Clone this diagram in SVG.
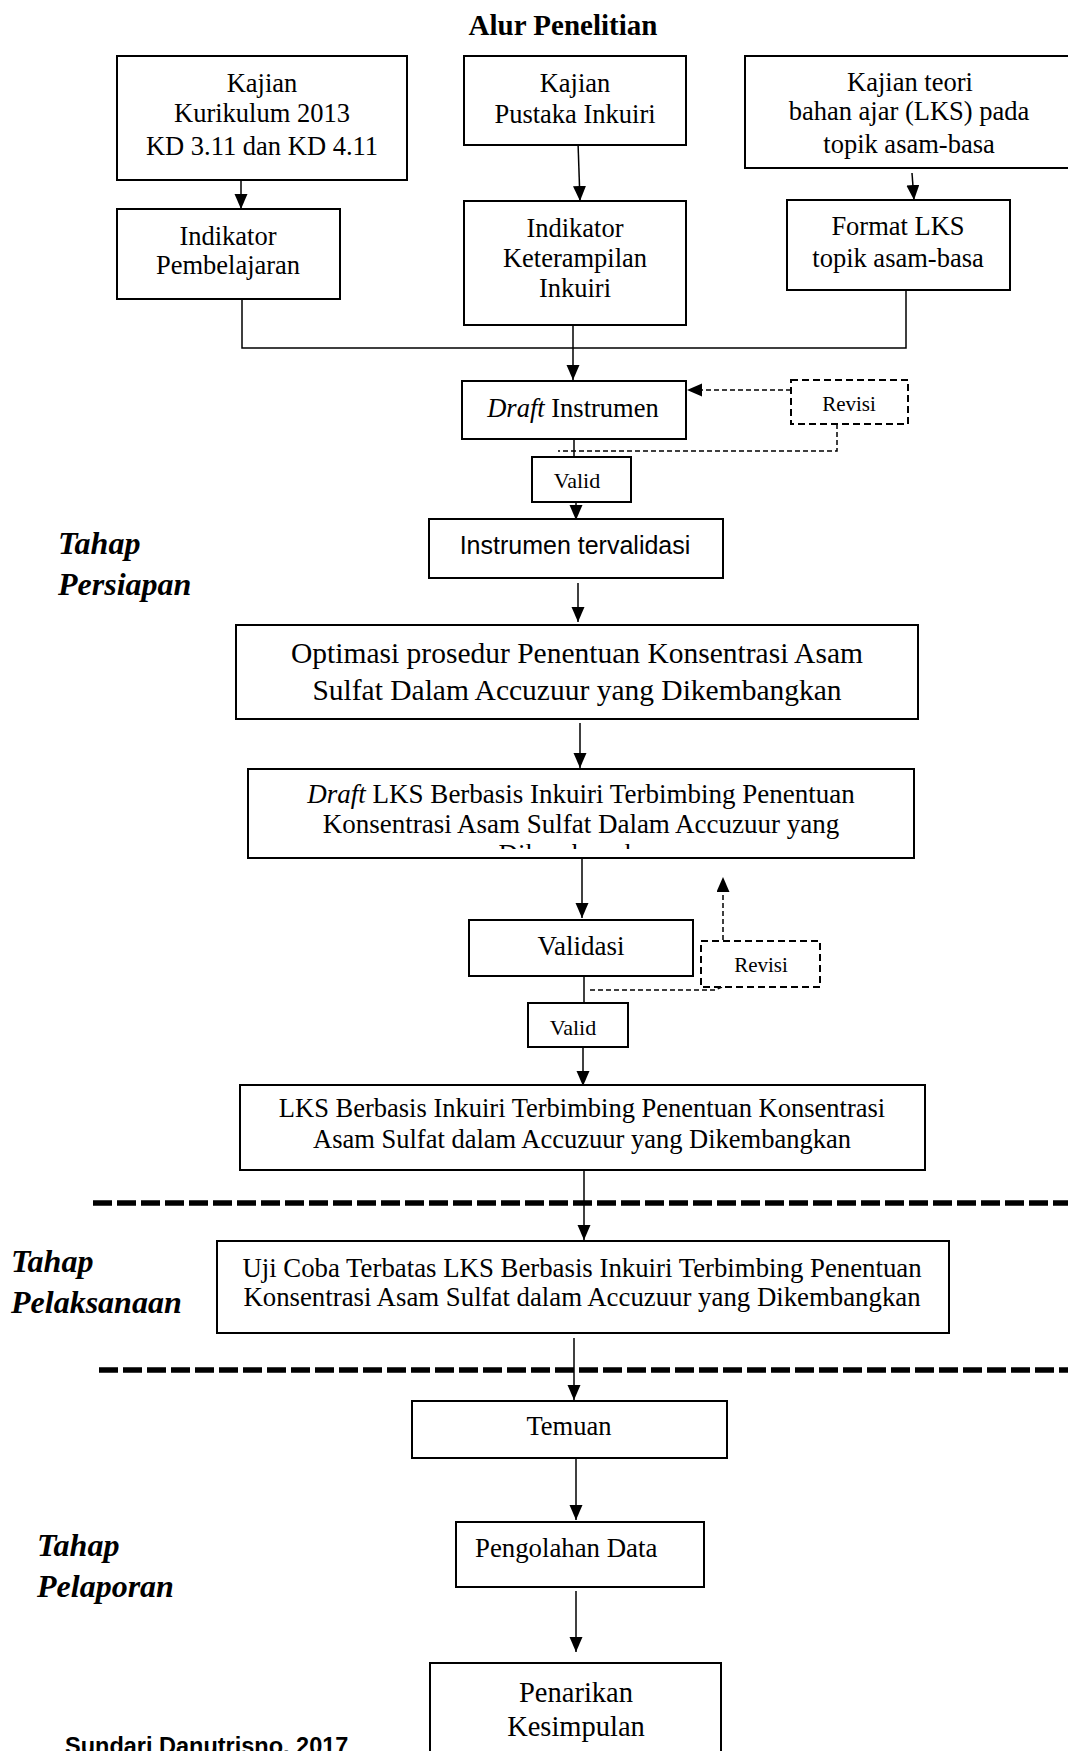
<svg xmlns="http://www.w3.org/2000/svg" width="1068" height="1751" viewBox="0 0 1068 1751">
<style>
.bx{fill:#fff;stroke:#000;stroke-width:2}
.dbx{fill:#fff;stroke:#000;stroke-width:2;stroke-dasharray:7 4}
.t{font-family:"Liberation Serif","Times New Roman",serif;fill:#000;text-anchor:middle}
.ln{fill:none;stroke:#000;stroke-width:1.5}
.dl{fill:none;stroke:#000;stroke-width:1.5;stroke-dasharray:5 3}
.sep{fill:none;stroke:#000;stroke-width:5.5;stroke-dasharray:19 5}
.ph{font-family:"Liberation Serif","Times New Roman",serif;font-weight:bold;font-style:italic;font-size:32px;fill:#000}
</style>
<defs>
<marker id="ah" markerUnits="userSpaceOnUse" markerWidth="16" markerHeight="14" refX="15" refY="6.5" orient="auto">
<path d="M0,0 L15,6.5 L0,13 z" fill="#000"/>
</marker>
<clipPath id="clipLKS"><rect x="249" y="770" width="664" height="79"/></clipPath>
</defs>
<rect width="1068" height="1751" fill="#fff"/>

<text class="t" x="563" y="35" style="font-weight:bold;font-size:29px">Alur Penelitian</text>

<g id="connectors">
<line class="ln" x1="241" y1="180" x2="241" y2="209" marker-end="url(#ah)"/>
<line class="ln" x1="578" y1="142" x2="580" y2="201" marker-end="url(#ah)"/>
<line class="ln" x1="912" y1="173" x2="914" y2="200" marker-end="url(#ah)"/>
<polyline class="ln" points="242,299 242,348 906,348 906,290"/>
<line class="ln" x1="573" y1="325" x2="573" y2="380" marker-end="url(#ah)"/>
<line class="ln" x1="574" y1="437" x2="574" y2="458"/>
<line class="ln" x1="576" y1="502" x2="576" y2="520" marker-end="url(#ah)"/>
<line class="dl" x1="791" y1="390" x2="687" y2="390" marker-end="url(#ah)"/>
<polyline class="dl" points="837,424 837,451 558,451"/>
<line class="ln" x1="578" y1="583" x2="578" y2="622" marker-end="url(#ah)"/>
<line class="ln" x1="580" y1="723" x2="580" y2="768" marker-end="url(#ah)"/>
<line class="ln" x1="582" y1="858" x2="582" y2="918" marker-end="url(#ah)"/>
<line class="dl" x1="723" y1="940" x2="723" y2="877" marker-end="url(#ah)"/>
<line class="ln" x1="584" y1="971" x2="584" y2="1003"/>
<polyline class="dl" points="590,990 715,990 722,987"/>
<line class="ln" x1="583" y1="1047" x2="583" y2="1086" marker-end="url(#ah)"/>
<line class="sep" x1="93" y1="1203" x2="1068" y2="1203"/>
<line class="ln" x1="584" y1="1170" x2="584" y2="1240" marker-end="url(#ah)"/>
<line class="sep" x1="99" y1="1370" x2="1068" y2="1370"/>
<line class="ln" x1="574" y1="1338" x2="574" y2="1400" marker-end="url(#ah)"/>
<line class="ln" x1="576" y1="1458" x2="576" y2="1520" marker-end="url(#ah)"/>
<line class="ln" x1="576" y1="1591" x2="576" y2="1652" marker-end="url(#ah)"/>
</g>

<g id="kajian-kurikulum">
<rect class="bx" x="117" y="56" width="290" height="124"/>
<text class="t" x="262" y="92" font-size="26.5">Kajian</text>
<text class="t" x="262" y="122" font-size="26.5">Kurikulum 2013</text>
<text class="t" x="262" y="155" font-size="26.5">KD 3.11 dan KD 4.11</text>
</g>
<g id="kajian-pustaka">
<rect class="bx" x="464" y="56" width="222" height="89"/>
<text class="t" x="575" y="92" font-size="26.5">Kajian</text>
<text class="t" x="575" y="123" font-size="26.5">Pustaka Inkuiri</text>
</g>
<g id="kajian-teori">
<rect class="bx" x="745" y="56" width="345" height="112"/>
<text class="t" x="910" y="91" font-size="26.5">Kajian teori</text>
<text class="t" x="909" y="120" font-size="26.5">bahan ajar (LKS) pada</text>
<text class="t" x="909" y="153" font-size="26.5">topik asam-basa</text>
</g>
<g id="indikator-pembelajaran">
<rect class="bx" x="117" y="209" width="223" height="90"/>
<text class="t" x="228" y="245" font-size="26.5">Indikator</text>
<text class="t" x="228" y="274" font-size="26.5">Pembelajaran</text>
</g>
<g id="indikator-keterampilan">
<rect class="bx" x="464" y="201" width="222" height="124"/>
<text class="t" x="575" y="237" font-size="26.5">Indikator</text>
<text class="t" x="575" y="267" font-size="26.5">Keterampilan</text>
<text class="t" x="575" y="297" font-size="26.5">Inkuiri</text>
</g>
<g id="format-lks">
<rect class="bx" x="787" y="200" width="223" height="90"/>
<text class="t" x="898" y="235" font-size="26.5">Format LKS</text>
<text class="t" x="898" y="267" font-size="26.5">topik asam-basa</text>
</g>
<g id="draft-instrumen">
<rect class="bx" x="462" y="381" width="224" height="58"/>
<text class="t" x="573" y="417" font-size="26.5"><tspan font-style="italic">Draft</tspan> Instrumen</text>
</g>
<g id="revisi-1">
<rect class="dbx" x="791" y="380" width="117" height="44"/>
<text class="t" x="849" y="411" font-size="21">Revisi</text>
</g>
<g id="valid-1">
<rect class="bx" x="532" y="457" width="99" height="45"/>
<text class="t" x="577" y="488" font-size="22">Valid</text>
</g>
<g id="instrumen-tervalidasi">
<rect class="bx" x="429" y="519" width="294" height="59"/>
<text x="575" y="554" font-family="Liberation Sans, Arial, sans-serif" font-size="25" text-anchor="middle" fill="#000">Instrumen tervalidasi</text>
</g>
<g id="optimasi">
<rect class="bx" x="236" y="625" width="682" height="94"/>
<text class="t" x="577" y="663" font-size="29.5">Optimasi prosedur Penentuan Konsentrasi Asam</text>
<text class="t" x="577" y="700" font-size="29.5">Sulfat Dalam Accuzuur yang Dikembangkan</text>
</g>
<g id="draft-lks">
<rect class="bx" x="248" y="769" width="666" height="89"/>
<g clip-path="url(#clipLKS)">
<text class="t" x="581" y="803" font-size="27"><tspan font-style="italic">Draft</tspan> LKS Berbasis Inkuiri Terbimbing Penentuan</text>
<text class="t" x="581" y="833" font-size="27">Konsentrasi Asam Sulfat Dalam Accuzuur yang</text>
<text class="t" x="581" y="863" font-size="27">Dikembangkan</text>
</g>
</g>
<g id="validasi">
<rect class="bx" x="469" y="920" width="224" height="56"/>
<text class="t" x="581" y="955" font-size="27">Validasi</text>
</g>
<g id="revisi-2">
<rect class="dbx" x="701" y="941" width="119" height="46"/>
<text class="t" x="761" y="972" font-size="21">Revisi</text>
</g>
<g id="valid-2">
<rect class="bx" x="528" y="1003" width="100" height="44"/>
<text class="t" x="573" y="1035" font-size="22">Valid</text>
</g>
<g id="lks-berbasis">
<rect class="bx" x="240" y="1085" width="685" height="85"/>
<text class="t" x="582" y="1117" font-size="26.5">LKS Berbasis Inkuiri Terbimbing Penentuan Konsentrasi</text>
<text class="t" x="582" y="1148" font-size="26.5">Asam Sulfat dalam Accuzuur yang Dikembangkan</text>
</g>
<g id="uji-coba">
<rect class="bx" x="217" y="1241" width="732" height="92"/>
<text class="t" x="582" y="1277" font-size="26.8">Uji Coba Terbatas LKS Berbasis Inkuiri Terbimbing Penentuan</text>
<text class="t" x="582" y="1306" font-size="26.8">Konsentrasi Asam Sulfat dalam Accuzuur yang Dikembangkan</text>
</g>
<g id="temuan">
<rect class="bx" x="412" y="1401" width="315" height="57"/>
<text class="t" x="569" y="1435" font-size="26.5">Temuan</text>
</g>
<g id="pengolahan-data">
<rect class="bx" x="456" y="1522" width="248" height="65"/>
<text class="t" x="475" y="1557" font-size="26.8" style="text-anchor:start">Pengolahan Data</text>
</g>
<g id="penarikan-kesimpulan">
<rect class="bx" x="430" y="1663" width="291" height="100"/>
<text class="t" x="576" y="1702" font-size="28.5">Penarikan</text>
<text class="t" x="576" y="1736" font-size="28.5">Kesimpulan</text>
</g>

<g id="labels">
<text class="ph" x="58" y="554">Tahap</text>
<text class="ph" x="58" y="595">Persiapan</text>
<text class="ph" x="11" y="1272">Tahap</text>
<text class="ph" x="11" y="1313">Pelaksanaan</text>
<text class="ph" x="37" y="1556">Tahap</text>
<text class="ph" x="37" y="1597">Pelaporan</text>
<text x="65" y="1754" font-family="Liberation Sans, Arial, sans-serif" font-weight="bold" font-size="23.5" fill="#000">Sundari Danutrisno, 2017</text>
</g>
</svg>
